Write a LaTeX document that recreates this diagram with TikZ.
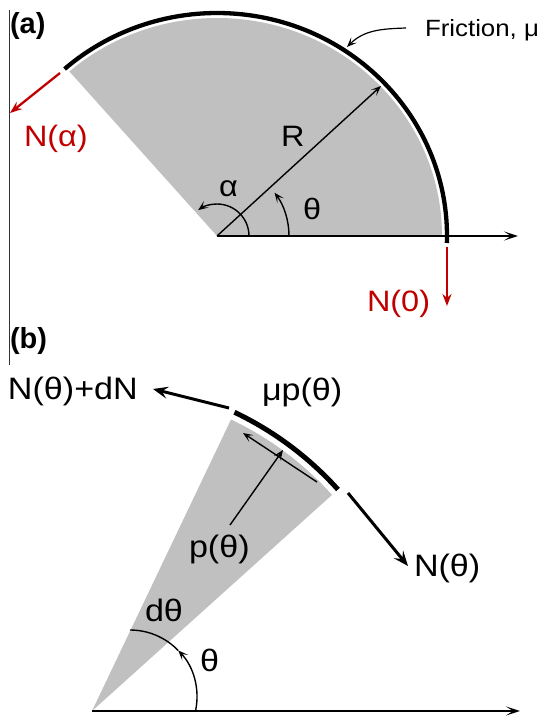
\documentclass[tikz,border=0pt]{standalone}
\usepackage{fontspec}
\setmainfont{Liberation Sans}[FakeStretch=1.1]
\newfontfamily\panelfont{Liberation Sans}
\usetikzlibrary{arrows.meta}
\definecolor{nred}{RGB}{192,0,0}
\definecolor{sectorgray}{RGB}{192,192,192}
\tikzset{
  lbl/.style={inner sep=0pt, outer sep=0pt, anchor=base west, font=\fontsize{29.5}{31}\selectfont},
  blbl/.style={inner sep=0pt, outer sep=0pt, anchor=base west, font=\fontsize{31}{33}\selectfont},
  panel/.style={inner sep=0pt, outer sep=0pt, anchor=base west, font=\panelfont\bfseries\fontsize{29}{31}\selectfont},
  axisline/.style={line width=1.5pt, -{Stealth[length=14pt,width=9pt,inset=7pt]}},
  thinarrow/.style={line width=1.4pt, -{Stealth[length=10pt,width=8pt,inset=5pt]}},
  redarrow/.style={nred, line width=2.3pt, -{Stealth[length=12pt,width=9pt,inset=4pt]}},
  thickarrow/.style={line width=3pt, -{Stealth[length=15pt,width=12pt,inset=6pt]}},
  frictionarc/.style={line width=4.3pt},
}
\begin{document}
\begin{tikzpicture}[x=1pt,y=1pt]
\useasboundingbox (0,0) rectangle (542,716);

% ---------- panel (a) ----------
\coordinate (A) at (217,480);
\coordinate (Aaxis) at (518,480);
\coordinate (vtop) at (9,706);
\coordinate (vbot) at (9,351);
\draw[line width=1pt, black!80] (vtop) -- (vbot);

\fill[sectorgray] (A) -- ([shift={(A)}]0:225pt and 218pt)
  arc[start angle=0, end angle=131, x radius=225pt, y radius=218pt] -- cycle;
\draw[frictionarc] ([shift={(A)}]-1.8:230pt and 223pt)
  arc[start angle=-1.8, end angle=131.5, x radius=230pt, y radius=223pt];

\draw[axisline] (A) -- (Aaxis);
\coordinate (Rtip) at (381,630);
\draw[thinarrow] (A) -- (Rtip);
\draw[thinarrow] ([shift={(A)}]0:72pt) arc[start angle=0, end angle=37, radius=72pt];
\draw[thinarrow] ([shift={(A)}]0:32pt) arc[start angle=0, end angle=126, radius=32pt];

\coordinate (fstart) at (406,688);
\coordinate (ftip) at (347,669);
\draw[thinarrow, line width=1.2pt] (fstart) to[out=182, in=45] (ftip);

\coordinate (na1) at (60,643);
\coordinate (na2) at (10,603);
\draw[redarrow] (na1) -- (na2);
\coordinate (n01) at (447,469);
\coordinate (n02) at (447,410);
\draw[redarrow] (n01) -- (n02);

\node[panel] (la) at (10,682) {(a)};
\node[lbl, font=\fontsize{23.5}{25}\selectfont] (lfric) at (425,679) {Friction, μ};
\node[lbl] (lR) at (281,569) {R};
\node[lbl] (lalpha) at (219,519) {α};
\node[lbl] (ltheta) at (303,496) {θ};
\node[lbl, text=nred] (lNa) at (24,569) {N(α)};
\node[lbl, text=nred] (lN0) at (367,404) {N(0)};

% ---------- panel (b) ----------
\coordinate (B) at (92,5);
\coordinate (Baxis) at (520,5);
\fill[sectorgray] (B) -- ([shift={(B)}]42:323pt)
  arc[start angle=42, end angle=64.5, radius=323pt] -- cycle;
\draw[line width=5pt] ([shift={(B)}]42:331pt)
  arc[start angle=42, end angle=64.5, radius=331pt];
\draw[axisline] (B) -- (Baxis);

\coordinate (nd1) at (229,308);
\coordinate (nd2) at (153,327);
\draw[thickarrow] (nd1) -- (nd2);
\coordinate (nt1) at (348,223);
\coordinate (nt2) at (408,150);
\draw[thickarrow] (nt1) -- (nt2);

\coordinate (p1) at (230,191);
\coordinate (p2) at (283,266);
\draw[thinarrow] (p1) -- (p2);
\coordinate (m1) at (317,234);
\coordinate (m2) at (243,283);
\draw[thinarrow] (m1) -- (m2);

\coordinate (C) at (130,19);
\draw[thinarrow] ([shift={(C)}]-12:67pt) arc[start angle=-12, end angle=44, radius=67pt];
\draw[line width=1.4pt] ([shift={(C)}]44:67pt) arc[start angle=44, end angle=90, radius=67pt];

\node[panel] (lb) at (10,367) {(b)};
\node[blbl] (lNdN) at (8,316) {N(θ)+dN};
\node[blbl] (lmup) at (262,315) {μp(θ)};
\node[blbl] (lp) at (189,158) {p(θ)};
\node[blbl] (lNt) at (414,139) {N(θ)};
\node[blbl] (ldt) at (145,94) {dθ};
\node[blbl] (ltb) at (200,44) {θ};
\end{tikzpicture}
\end{document}
